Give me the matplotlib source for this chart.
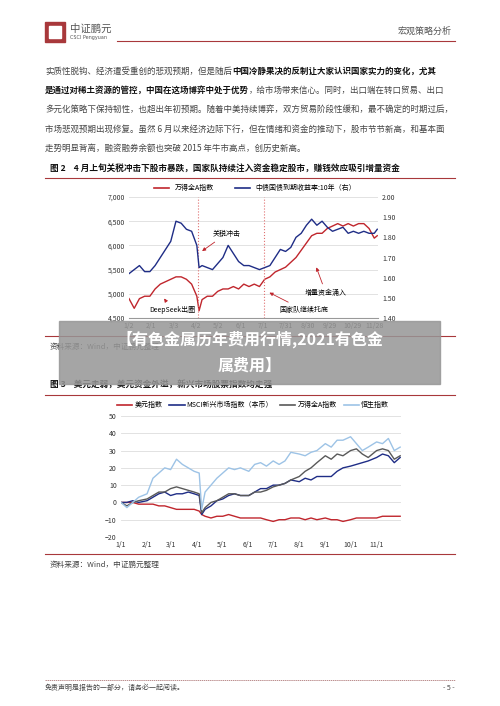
import matplotlib
matplotlib.use("Agg")
import matplotlib.pyplot as plt
import numpy as np
from matplotlib.patches import Rectangle
from matplotlib.lines import Line2D

plt.rcParams['font.family'] = ['Noto Sans CJK SC', 'DejaVu Sans']

# ---------------- data: chart 1 ----------------
c1_days = [0,7,14,21,28,35,42,49,56,63,70,77,84,91,94,98,105,112,119,126,133,140,147,154,161,168,175,182,189,196,203,210,217,224,231,238,245,252,259,266,273,280,287,294,301,308,315,322,329,333]
c1_windA = [4900,4700,4900,4950,4950,5100,5200,5250,5300,5350,5350,5300,5200,4950,4650,4880,4950,4950,5050,5100,5100,5150,5100,5200,5150,5200,5150,5300,5350,5450,5500,5550,5650,5750,5900,6050,6200,6250,6250,6350,6400,6450,6400,6450,6400,6450,6450,6350,6150,6200]
c1_yield = [1.62,1.64,1.66,1.63,1.63,1.66,1.70,1.74,1.78,1.88,1.87,1.84,1.83,1.76,1.65,1.66,1.65,1.64,1.67,1.70,1.76,1.72,1.68,1.66,1.66,1.65,1.64,1.65,1.66,1.70,1.74,1.73,1.75,1.80,1.82,1.86,1.89,1.86,1.88,1.85,1.83,1.84,1.85,1.82,1.83,1.82,1.83,1.82,1.82,1.84]
c1_ticks = [0,30,60,90,120,150,180,210,240,270,300,330]
c1_ticklabels = ['1/2','2/1','3/3','4/2','5/2','6/1','7/1','7/31','8/30','9/29','10/29','11/28']

# ---------------- data: chart 2 ----------------
c2_days = [0,7,14,21,31,38,45,52,59,66,73,80,87,93,96,100,107,114,121,128,135,142,152,159,166,173,181,188,195,202,212,219,226,233,243,250,257,264,273,280,287,294,304,311,318,325,332]
c2_usd  = [0,0,0,-1,-1,-1,-2,-2,-3,-4,-4,-4,-4,-5,-7,-8,-9,-8,-8,-7,-8,-9,-9,-9,-9,-10,-11,-10,-10,-9,-9,-10,-9,-10,-9,-10,-10,-11,-10,-9,-9,-9,-9,-8,-8,-8,-8]
c2_msci = [0,0,1,0,1,3,5,6,4,5,5,6,5,4,-7,-4,-2,1,2,4,5,4,4,6,8,8,10,10,11,13,12,14,13,15,15,15,18,20,21,22,23,24,26,28,27,23,26]
c2_winda= [0,-2,0,1,2,4,6,6,8,9,8,7,6,5,-6,-3,0,1,3,5,5,4,4,6,6,7,9,10,11,13,15,18,20,23,27,25,28,27,30,31,28,26,30,31,30,25,27]
c2_hsi  = [0,-3,0,3,5,14,17,20,19,25,22,20,18,17,-4,6,10,14,17,20,19,20,18,22,23,21,24,22,24,29,28,27,29,30,34,32,36,36,38,34,30,32,35,34,37,30,32]
c2_ticks = [0,31,59,90,120,151,181,212,243,273,304]
c2_ticklabels = ['1/1','2/1','3/1','4/1','5/1','6/1','7/1','8/1','9/1','10/1','11/1']

W, H = 500, 706
fig = plt.figure(figsize=(5, 7.06), dpi=100)
fig.patch.set_facecolor('white')
DARKRED = '#a8383b'

def fy(py): return 1 - py / H
def fx(px): return px / W
def txt(px, py, s, **kw):
    return fig.text(fx(px), fy(py), s, **kw)
def hline(x0, x1, py, **kw):
    fig.add_artist(Line2D([fx(x0), fx(x1)], [fy(py), fy(py)], transform=fig.transFigure, **kw))
def axes_px(x0, y0, x1, y1):
    return fig.add_axes([fx(x0), fy(y1), fx(x1 - x0), (y1 - y0) / H])

# header
fig.add_artist(Rectangle((fx(45), fy(42)), fx(20), 20 / H, transform=fig.transFigure, color=DARKRED))
fig.add_artist(Rectangle((fx(49), fy(38)), fx(12), 12 / H, transform=fig.transFigure, color='white'))
txt(70, 29, '中证鹏元', fontsize=7.5, color='#555555', va='center')
txt(70, 38, 'CSCI Pengyuan', fontsize=3.5, color='#555555', va='center', family='DejaVu Sans')
txt(452, 31, '宏观策略分析', fontsize=6.5, color='#555555', va='center', ha='right')
hline(117, 455, 41, color=DARKRED, lw=0.8)

# body text with bold segments
lines = [
    [('实质性脱钩、经济遭受重创的悲观预期，但是随后', False), ('中国冷静果决的反制让大家认识国家实力的变化，尤其', True)],
    [('是通过对稀土资源的管控，中国在这场博弈中处于优势', True), ('，给市场带来信心。同时，出口端在转口贸易、出口', False)],
    [('多元化策略下保持韧性，也超出年初预期。随着中美持续博弈，双方贸易阶段性缓和，最不确定的时期过后，', False)],
    [('市场悲观预期出现修复。虽然 6 月以来经济边际下行，但在情绪和资金的推动下，股市节节新高，和基本面', False)],
    [('走势明显背离，融资融券余额也突破 2015 年牛市高点，创历史新高。', False)],
]
ys = [71, 90, 109, 129, 148]
fig.canvas.draw()
r = fig.canvas.get_renderer()
for segs, py in zip(lines, ys):
    x = 45
    for s, b in segs:
        t = txt(x, py, s, fontsize=6.1, va='center', color='#111111' if b else '#444444',
                fontweight='bold' if b else 'normal')
        x += t.get_window_extent(r).width
txt(50, 169, '图 2    4 月上旬关税冲击下股市暴跌，国家队持续注入资金稳定股市，赚钱效应吸引增量资金',
    fontsize=6.2, fontweight='bold', va='center', color='#111111')
hline(45, 455, 178, color=DARKRED, lw=0.8)

# ---------------- chart 1 ----------------
ax1 = axes_px(129, 197, 378, 318)
RED = '#c0262d'; BLUE = '#1f2d86'
ax1.plot(c1_days, c1_windA, color=RED, lw=1.0)
ax1.set_ylim(4500, 7000); ax1.set_xlim(0, 334)
ax1.set_yticks([4500, 5000, 5500, 6000, 6500, 7000])
ax1.set_yticklabels(['4,500','5,000','5,500','6,000','6,500','7,000'])
ax1b = ax1.twinx()
ax1b.plot(c1_days, c1_yield, color=BLUE, lw=1.0)
ax1b.set_ylim(1.40, 2.00)
ax1b.set_yticks(np.arange(1.40, 2.01, 0.10))
ax1b.set_yticklabels([f'{v:.2f}' for v in np.arange(1.40, 2.01, 0.10)])
ax1.set_xticks(c1_ticks); ax1.set_xticklabels(c1_ticklabels)
for a in (ax1, ax1b):
    for s in a.spines.values(): s.set_visible(False)
    a.tick_params(length=0, labelsize=5, colors='#333333', pad=3)
ax1.spines['bottom'].set_visible(True); ax1.spines['bottom'].set_color('#999999')
ax1.grid(axis='y', color='#dddddd', lw=0.6)
ax1.axvline(93, color='#e07070', ls=':', lw=0.8)
ax1.axvline(181, color='#e07070', ls=':', lw=0.8)
ap = dict(arrowstyle='-|>', color=RED, lw=0.6, mutation_scale=5)
ax1.annotate('关税冲击', xy=(95, 5850), xytext=(112, 6200), fontsize=5, arrowprops=ap)
ax1.annotate('DeepSeek出圈', xy=(45, 4950), xytext=(27, 4620), fontsize=5, arrowprops=ap)
ax1.annotate('增量资金涌入', xy=(250, 5600), xytext=(236, 4970), fontsize=5, arrowprops=ap)
ax1.annotate('国家队继续托底', xy=(185, 5050), xytext=(202, 4620), fontsize=5, arrowprops=ap)
fig.legend(handles=[Line2D([], [], color=RED, lw=1.2, label='万得全A指数'),
                    Line2D([], [], color=BLUE, lw=1.2, label='中债国债到期收益率:10年（右）')],
           loc='center', bbox_to_anchor=(fx(255), fy(188)), ncol=2, frameon=False,
           fontsize=5, handlelength=2.2, columnspacing=3)
hline(45, 455, 336, color=DARKRED, lw=0.8)
txt(50, 347, '资料来源：Wind，中证鹏元整理', fontsize=5.5, va='center', color='#444444')
txt(50, 385, '图 3    美元走弱，美元资金外溢，新兴市场股票指数均走强', fontsize=6.2,
    fontweight='bold', va='center', color='#111111')
hline(45, 455, 395, color=DARKRED, lw=0.8)

# ---------------- chart 2 ----------------
ax2 = axes_px(121, 416, 401, 537)
ax2.plot(c2_days, c2_usd, color=RED, lw=1.0)
ax2.plot(c2_days, c2_msci, color=BLUE, lw=1.0)
ax2.plot(c2_days, c2_winda, color='#595959', lw=1.0)
ax2.plot(c2_days, c2_hsi, color='#9dc3e6', lw=1.0)
ax2.set_ylim(-20, 50); ax2.set_xlim(0, 333)
ax2.set_yticks(range(-20, 51, 10))
ax2.set_xticks(c2_ticks); ax2.set_xticklabels(c2_ticklabels)
for s in ax2.spines.values(): s.set_visible(False)
ax2.tick_params(length=0, labelsize=5, colors='#333333', pad=3)
ax2.grid(axis='y', color='#dddddd', lw=0.6)
fig.legend(handles=[Line2D([], [], color=RED, lw=1.2, label='美元指数'),
                    Line2D([], [], color=BLUE, lw=1.2, label='MSCI新兴市场指数（本币）'),
                    Line2D([], [], color='#595959', lw=1.2, label='万得全A指数'),
                    Line2D([], [], color='#9dc3e6', lw=1.2, label='恒生指数')],
           loc='center', bbox_to_anchor=(fx(253), fy(405)), ncol=4, frameon=False,
           fontsize=5, handlelength=2.2, columnspacing=1.0, handletextpad=0.3)
hline(45, 455, 554, color=DARKRED, lw=0.8)
txt(50, 565, '资料来源：Wind，中证鹏元整理', fontsize=5.5, va='center', color='#444444')

# footer
hline(45, 455, 680, color='#a06060', lw=0.5, ls=(0, (2, 1)))
txt(45, 688, '免责声明是报告的一部分，请务必一起阅读。', fontsize=5, va='center',
    color='#444444', style='italic')
txt(455, 688, '- 5 -', fontsize=5, va='center', ha='right', color='#444444')

# banner overlay
fig.add_artist(Rectangle((fx(59), fy(384)), fx(381), 63 / H, transform=fig.transFigure,
                         color='#969696', alpha=0.85, zorder=10))
txt(250, 339, '【有色金属历年费用行情,2021有色金', fontsize=11.5, fontweight='bold',
    color='white', ha='center', va='center', zorder=11)
txt(250, 366, '属费用】', fontsize=11.5, fontweight='bold', color='white',
    ha='center', va='center', zorder=11)

fig.savefig('out.png', dpi=100)
